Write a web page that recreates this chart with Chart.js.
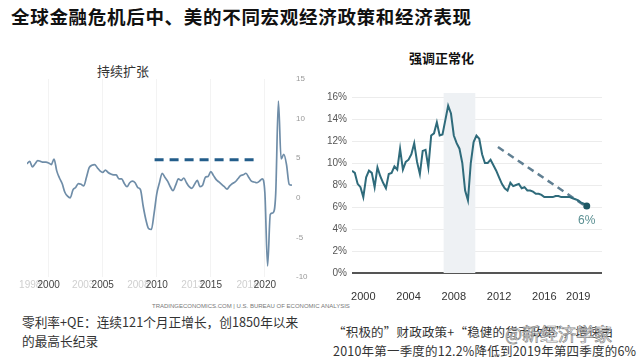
<!DOCTYPE html>
<html>
<head>
<meta charset="utf-8">
<script src="https://cdn.jsdelivr.net/npm/chart.js@4.4.1/dist/chart.umd.min.js"></script>
<style>
  body { margin: 0; background: #fff; width: 640px; height: 361px; overflow: hidden; position: relative; font-family: "Noto Sans CJK SC", sans-serif; }
  .t { position: absolute; white-space: nowrap; }
  canvas { position: absolute; }
</style>
</head>
<body>
<div class="t" style="left:11px;top:3px;font-size:18.5px;font-weight:bold;color:#111;letter-spacing:0.7px;">全球金融危机后中、美的不同宏观经济政策和经济表现</div>
<div class="t" style="left:97px;top:61px;font-size:13px;color:#333;">持续扩张</div>
<div class="t" style="left:409px;top:48px;font-size:13px;font-weight:bold;color:#111;">强调正常化</div>

<canvas id="usChart" width="320" height="240" style="left:0;top:60px;"></canvas>
<canvas id="cnChart" width="320" height="240" style="left:320px;top:60px;"></canvas>

<div class="t" style="left:152px;top:303px;font-size:6px;color:#777;font-family:'Liberation Sans Narrow','Liberation Sans',sans-serif;">TRADINGECONOMICS.COM | U.S. BUREAU OF ECONOMIC ANALYSIS</div>
<div class="t" style="left:22px;top:312px;font-size:12.7px;color:#333;line-height:19px;">零利率+QE：连续121个月正增长，创1850年以来<br>的最高长纪录</div>
<div class="t" style="left:333px;top:322px;font-size:12.5px;color:#333;line-height:19px;letter-spacing:0.2px;">“积极的”财政政策+“稳健的货币政策”，增速由<br>2010年第一季度的12.2%降低到2019年第四季度的6%</div>
<div class="t" style="left:505px;top:320px;font-size:18px;color:rgba(255,255,255,0.75);-webkit-text-stroke:0.7px #8a8a8a;">@新经济学家</div>

<script>
// 美国 GDP 同比 (季度, 1998Q1 起)
const usStartYear = 1998;
const usGrowth = [4.3, 4.6, 3.9, 4.3, 4.7, 4.6, 4.5, 4.5, 4.4, 4.2, 4.9, 3.4, 2.5, 1.8, 0.7, 0.2,
  0.0, 1.0, 1.3, 1.8, 1.7, 1.5, 2.6, 3.8, 4.1, 4.2, 3.8, 3.4, 3.2, 3.5, 3.2, 3.0,
  2.9, 2.9, 2.4, 2.4, 1.8, 1.4, 1.9, 2.1, 1.9, 1.3, 1.0, -1.1, -2.8, -3.9, -4.0, -2.0,
  0.5, 1.9, 3.1, 2.6, 2.1, 1.4, 0.9, 1.6, 2.4, 2.2, 2.5, 1.9, 1.4, 1.2, 1.7, 2.2,
  1.4, 1.6, 2.6, 2.7, 3.3, 2.8, 2.3, 2.0, 1.7, 1.4, 1.1, 1.5, 1.8, 2.0, 2.4, 2.8,
  2.9, 3.1, 2.6, 2.1, 2.0, 1.9, 2.1, 2.4, 0.6, -8.6, -2.1, -1.9, 0.5, 12.2, 4.9, 5.5,
  4.2, 1.7, 1.6];
const usTrendX = [2009.8, 2019.1];
const usTrendY = [4.8, 4.8];
const usTickYears = [1998.3, 2000, 2003.2, 2005, 2008.3, 2010, 2013.3, 2015, 2018.4, 2020];
const usTickLabels = ["1998", "2000", "2003", "2005", "2008", "2010", "2013", "2015", "2018", "2020"];
const usMajorYears = [2000, 2005, 2010, 2015, 2020];

// 中国 GDP 同比 (季度, 1999Q1 起)
const cnStartYear = 1999;
const cnGrowth = [9.3, 9.1, 8.1, 7.8, 6.9, 8.7, 9.3, 9.1, 7.8, 9.6, 8.8, 8.2, 7.7, 9.0, 9.1, 9.7,
  9.4, 11.3, 9.4, 10.1, 10.3, 10.8, 11.8, 10.1, 9.0, 11.1, 11.2, 9.6, 12.5, 12.7, 13.7, 12.5,
  12.6, 13.9, 15.2, 14.5, 12.5, 11.8, 11.3, 10.0, 7.5, 6.6, 10.0, 11.9, 12.5, 12.2, 10.8, 10.0,
  10.0, 10.3, 9.8, 9.3, 8.7, 8.1, 7.7, 7.5, 8.2, 7.9, 8.0, 8.1, 7.7, 7.8, 7.5, 7.5,
  7.4, 7.2, 7.2, 7.1, 6.9, 6.9, 6.9, 6.9, 7.0, 7.0, 6.9, 6.9, 6.9, 6.9, 6.8, 6.7,
  6.6, 6.4, 6.3, 6.1];
const cnTrendX = [2011.9, 2019.75];
const cnTrendY = [11.45, 6.0];
const cnTickYears = [2000, 2004, 2008, 2012, 2016, 2019];
const cnShade = [2007.1, 2009.9];
const cnEndLabel = "6%";

const toPoints = (start, vals) => vals.map((v, i) => ({ x: start + i * 0.25, y: v }));
const pairPoints = (xs, ys) => xs.map((x, i) => ({ x: x, y: ys[i] }));

// 右侧刻度文字自己画，贴近图区
const usAxisLabels = {
  id: "usAxisLabels",
  afterDraw(chart) {
    const { ctx, chartArea, scales } = chart;
    ctx.save();
    ctx.fillStyle = "#999";
    ctx.font = "8px 'Liberation Sans Narrow', 'Liberation Sans', sans-serif";
    ctx.textAlign = "left";
    ctx.textBaseline = "middle";
    scales.y.ticks.forEach(t => {
      ctx.fillText(String(t.value), chartArea.right + 3, scales.y.getPixelForValue(t.value));
    });
    ctx.restore();
  }
};

// 左图：美国
new Chart(document.getElementById("usChart"), {
  type: "line",
  data: {
    datasets: [{
      data: toPoints(usStartYear, usGrowth),
      borderColor: "#6f8da8",
      borderWidth: 1.7,
      pointRadius: 0,
      cubicInterpolationMode: "monotone"
    }, {
      data: pairPoints(usTrendX, usTrendY),
      borderColor: "#235d8a",
      borderWidth: 3,
      borderDash: [9, 6],
      pointRadius: 0
    }]
  },
  options: {
    responsive: false,
    animation: false,
    devicePixelRatio: 1,
    layout: { padding: { left: 27, right: 0, top: 19, bottom: 0 } },
    plugins: { legend: { display: false }, tooltip: { enabled: false } },
    scales: {
      x: {
        type: "linear",
        min: 1998,
        max: 2022.6,
        afterBuildTicks: (s) => { s.ticks = usTickYears.map(v => ({ value: v })); },
        afterFit: (s) => { s.height = 23; },
        ticks: {
          autoSkip: false,
          maxRotation: 0,
          padding: 2,
          font: { family: "'Liberation Sans Narrow', 'Liberation Sans', sans-serif", size: 10 },
          color: (c) => usMajorYears.includes(c.tick.value) ? "#444" : "#cfcfcf",
          callback: (v, i) => usTickLabels[i]
        },
        grid: {
          drawTicks: false,
          color: (c) => c.tick && usMajorYears.includes(c.tick.value) ? "#f3f3f3" : "rgba(0,0,0,0)"
        },
        border: { display: false }
      },
      y: {
        position: "right",
        min: -10,
        max: 15,
        afterFit: (s) => { s.width = 27; },
        ticks: { stepSize: 5, display: false },
        grid: { display: false, drawTicks: false },
        border: { display: false }
      }
    }
  },
  plugins: [usAxisLabels]
});

// 右图：中国
const shadePlugin = {
  id: "shade",
  beforeDatasetsDraw(chart) {
    const { ctx, chartArea, scales } = chart;
    const x0 = scales.x.getPixelForValue(cnShade[0]);
    const x1 = scales.x.getPixelForValue(cnShade[1]);
    const y1 = scales.y.getPixelForValue(0);
    ctx.save();
    ctx.fillStyle = "#eef1f4";
    ctx.fillRect(x0, chartArea.top - 4, x1 - x0, y1 - chartArea.top + 4);
    ctx.restore();
  },
  afterDatasetsDraw(chart) {
    const { ctx } = chart;
    const meta = chart.getDatasetMeta(0);
    const last = meta.data[meta.data.length - 1];
    ctx.save();
    ctx.fillStyle = "#5a8f92";
    ctx.font = "12px 'Liberation Sans', sans-serif";
    ctx.textAlign = "center";
    ctx.textBaseline = "middle";
    ctx.fillText(cnEndLabel, last.x, last.y + 15);
    ctx.restore();
  }
};

new Chart(document.getElementById("cnChart"), {
  type: "line",
  data: {
    datasets: [{
      data: toPoints(cnStartYear, cnGrowth),
      borderColor: "#2f6b7b",
      borderWidth: 2,
      pointRadius: (c) => c.dataIndex === cnGrowth.length - 1 ? 3.5 : 0,
      pointBackgroundColor: "#1d5763",
      pointBorderWidth: 0,
      tension: 0
    }, {
      data: pairPoints(cnTrendX, cnTrendY),
      borderColor: "#607f92",
      borderWidth: 2.5,
      borderDash: [7, 5],
      pointRadius: 0
    }]
  },
  options: {
    responsive: false,
    animation: false,
    devicePixelRatio: 1,
    layout: { padding: { left: 0, right: 38, top: 37, bottom: 0 } },
    plugins: { legend: { display: false }, tooltip: { enabled: false } },
    scales: {
      x: {
        type: "linear",
        min: 1999,
        max: 2021.1,
        afterBuildTicks: (s) => { s.ticks = cnTickYears.map(v => ({ value: v })); },
        afterFit: (s) => { s.height = 27; },
        ticks: {
          autoSkip: false,
          maxRotation: 0,
          padding: 9,
          font: { family: "'Liberation Sans', sans-serif", size: 11 },
          color: "#333",
          callback: (v) => String(v)
        },
        grid: { display: false },
        border: { display: false }
      },
      y: {
        min: 0,
        max: 16,
        afterFit: (s) => { s.width = 32; },
        ticks: {
          stepSize: 2,
          padding: 5,
          font: { family: "'Liberation Sans', sans-serif", size: 10 },
          color: "#555",
          callback: (v) => v + "%"
        },
        grid: {
          drawTicks: false,
          color: (c) => c.tick && c.tick.value === 0 ? "#555" : "#ececec",
          lineWidth: (c) => c.tick && c.tick.value === 0 ? 2 : 1
        },
        border: { display: false }
      }
    }
  },
  plugins: [shadePlugin]
});
</script>
</body>
</html>
